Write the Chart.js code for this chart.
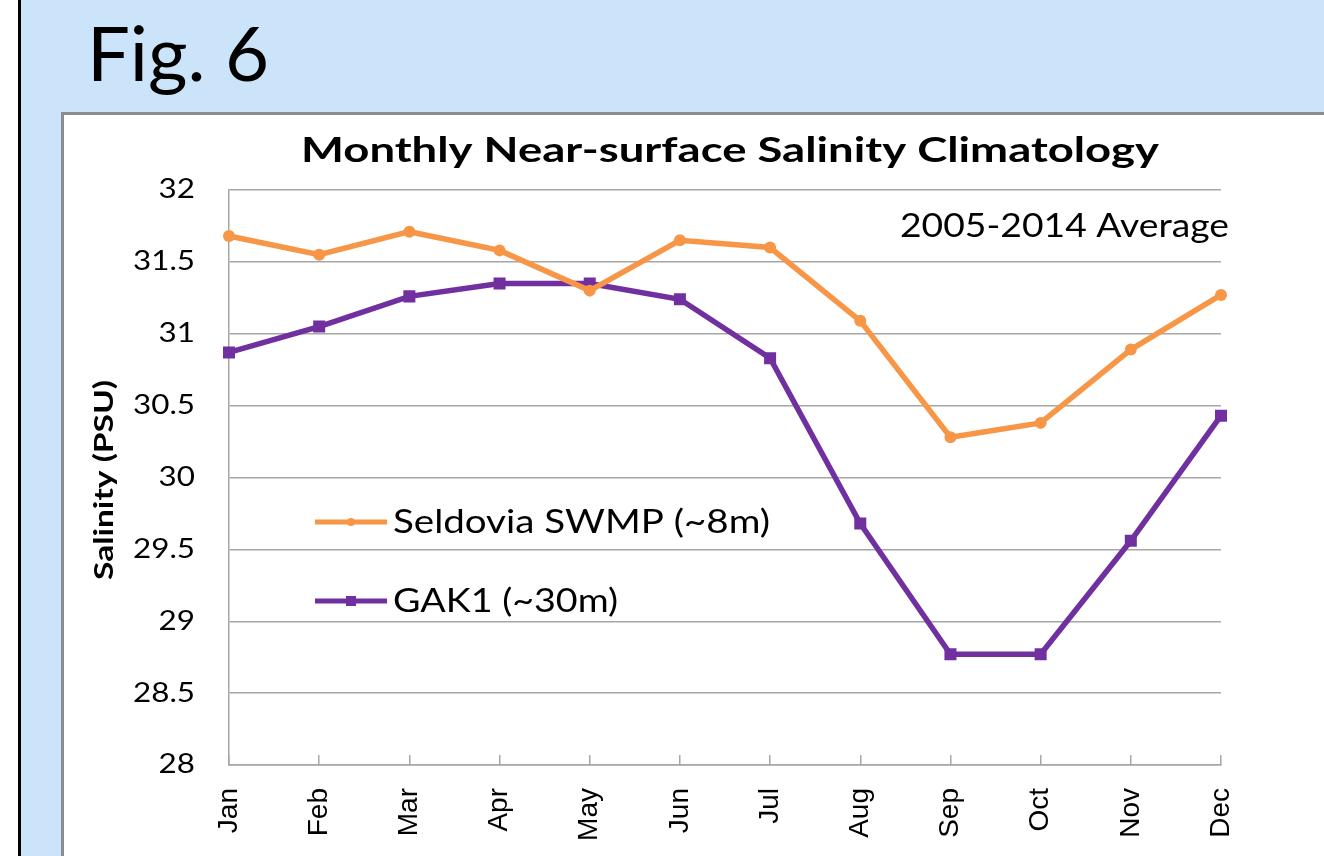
<!DOCTYPE html>
<html lang="en">
<head>
  <meta charset="utf-8">
  <title>Fig. 6 - Monthly Near-surface Salinity Climatology</title>
  <script src="https://cdn.jsdelivr.net/npm/chart.js@4/dist/chart.umd.min.js"></script>
  <style>
    html, body { margin: 0; padding: 0; }
    body { width: 1324px; height: 856px; overflow: hidden; position: relative; background: #fff; }
    .slide { position: absolute; left: 18px; top: 0; width: 1306px; height: 856px;
             background: #cce4f9; border-left: 3px solid #000; box-sizing: border-box; }
    .fig { position: absolute; left: 66px; top: 14px; font-family: Lato, sans-serif;
           font-size: 76px; line-height: 1; color: #000; }
    .panel { position: absolute; left: 61px; top: 112px; width: 1300px; height: 800px;
             background: #fff; border: 3px solid #8c8c8c; box-sizing: border-box; }
    #chart-wrap { position: absolute; left: 64px; top: 115px; width: 1260px; height: 741px; }
  </style>
</head>
<body>
<div class="slide"><div class="fig">Fig. 6</div></div>
<div class="panel"></div>
<div id="chart-wrap"><canvas id="salinity"></canvas></div>

<script>
// data
var months   = ['Jan','Feb','Mar','Apr','May','Jun','Jul','Aug','Sep','Oct','Nov','Dec'];
var seldovia = [31.68, 31.55, 31.71, 31.58, 31.30, 31.65, 31.60, 31.09, 30.28, 30.38, 30.89, 31.27];
var gak1     = [30.87, 31.05, 31.26, 31.35, 31.35, 31.24, 30.83, 29.68, 28.77, 28.77, 29.56, 30.43];
var seriesNames = ['Seldovia SWMP (~8m)', 'GAK1 (~30m)'];
var yTicks = [28, 28.5, 29, 29.5, 30, 30.5, 31, 31.5, 32];

var ORANGE = '#f79646', PURPLE = '#7030a0', GRID = '#a6a6a6';

// the original chart image is stretched sideways, so text gets squeezed/stretched to a width
function fitText(ctx, text, x, y, align, width) {
  var k = width / ctx.measureText(text).width;
  ctx.save();
  ctx.translate(x, y);
  ctx.scale(k, 1);
  ctx.textAlign = align;
  ctx.fillText(text, 0, 0);
  ctx.restore();
}

var decorations = {
  id: 'decorations',
  afterDraw: function(chart) {
    var ctx = chart.ctx, a = chart.chartArea, ys = chart.scales.y;
    ctx.save();
    ctx.fillStyle = '#000';

    ctx.textBaseline = 'alphabetic';
    ctx.font = 'bold 35px Lato';
    fitText(ctx, 'Monthly Near-surface Salinity Climatology', 666, 47, 'center', 858);

    ctx.font = '33px Lato';
    fitText(ctx, '2005-2014 Average', a.right + 8, 122, 'right', 329);

    // y tick labels
    ctx.textBaseline = 'middle';
    ctx.font = '26px Lato';
    var k = 62 / ctx.measureText('31.5').width;
    yTicks.forEach(function(v) {
      ctx.save();
      ctx.translate(a.left - 34, ys.getPixelForValue(v));
      ctx.scale(k, 1);
      ctx.textAlign = 'right';
      ctx.fillText(String(v), 0, 0);
      ctx.restore();
    });

    // y axis title
    ctx.save();
    ctx.translate(40, 365);
    ctx.rotate(-Math.PI / 2);
    ctx.font = 'bold 27px Lato';
    fitText(ctx, 'Salinity (PSU)', 0, 0, 'center', 200);
    ctx.restore();

    // legend inside the plot
    var rows = [407, 486];
    chart.data.datasets.forEach(function(ds, i) {
      var y = rows[i], x0 = a.left + 86, x1 = a.left + 158;
      ctx.strokeStyle = ds.borderColor;
      ctx.lineWidth = 5;
      ctx.beginPath(); ctx.moveTo(x0, y); ctx.lineTo(x1, y); ctx.stroke();
      ctx.fillStyle = ds.borderColor;
      var cx = (x0 + x1) / 2;
      if (ds.pointStyle === 'rect') { ctx.fillRect(cx - 5, y - 5, 10, 10); }
      else { ctx.beginPath(); ctx.arc(cx, y, 4, 0, Math.PI * 2); ctx.fill(); }
      ctx.fillStyle = '#000';
      ctx.font = '33px Lato';
      var w = i === 0 ? 377 : 225;
      fitText(ctx, ds.label, x1 + 6, y, 'left', w);
    });
    ctx.restore();
  }
};

new Chart(document.getElementById('salinity'), {
  type: 'line',
  data: {
    labels: months,
    datasets: [
      {
        label: seriesNames[0],
        data: seldovia,
        borderColor: ORANGE,
        backgroundColor: ORANGE,
        borderWidth: 5.5,
        pointStyle: 'circle',
        pointRadius: 6,
        pointBorderWidth: 0,
        tension: 0
      },
      {
        label: seriesNames[1],
        data: gak1,
        borderColor: PURPLE,
        backgroundColor: PURPLE,
        borderWidth: 5.5,
        pointStyle: 'rect',
        pointRadius: 8.5,
        pointBorderWidth: 0,
        tension: 0
      }
    ]
  },
  options: {
    responsive: true,
    maintainAspectRatio: false,
    animation: false,
    layout: { padding: { top: 75, right: 103, left: 0, bottom: 0 } },
    plugins: { legend: { display: false }, title: { display: false }, tooltip: { enabled: false } },
    scales: {
      x: {
        offset: false,
        grid: { drawOnChartArea: false, drawTicks: true, tickLength: -10, color: GRID, lineWidth: 1.5 },
        border: { display: true, color: GRID, width: 1.5 },
        ticks: { maxRotation: 90, minRotation: 90, padding: 33, autoSkip: false,
                 color: '#000', font: { family: 'Liberation Sans', size: 28 } },
        afterFit: function(s) { s.height = 91; }
      },
      y: {
        min: 28, max: 32,
        afterBuildTicks: function(s) { s.ticks = yTicks.map(function(v) { return { value: v }; }); },
        grid: { drawTicks: false, color: GRID, lineWidth: 1.5 },
        border: { display: true, color: GRID, width: 1.5 },
        ticks: { display: false },
        afterFit: function(s) { s.width = 165; }
      }
    }
  },
  plugins: [decorations]
});
</script>
</body>
</html>
